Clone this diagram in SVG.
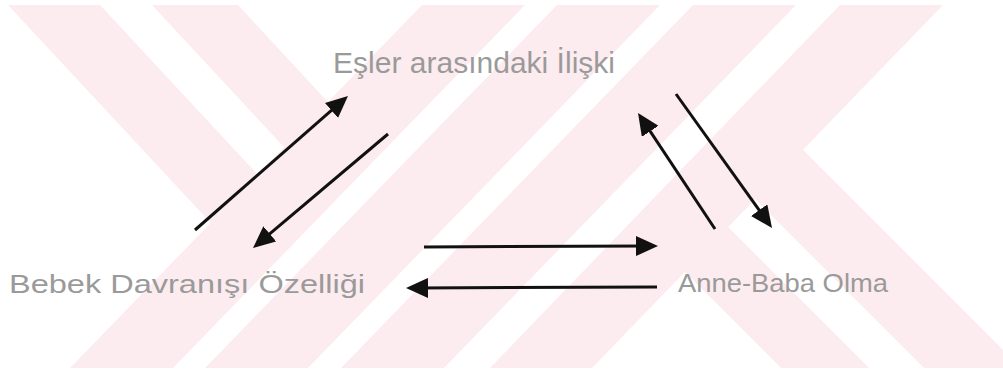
<svg xmlns="http://www.w3.org/2000/svg" width="1003" height="370" viewBox="0 0 1003 370">
  <style>
    .wm { fill: #fdecef; stroke: none; }
    .lbl { font-family: "Liberation Sans", Arial, sans-serif; fill: #9a9a9a; }
    .conn { stroke: #111111; stroke-width: 3; fill: none; marker-end: url(#head); }
  </style>
  <defs>
    <marker id="head" viewBox="0 0 22 20" refX="11" refY="10" markerWidth="22" markerHeight="20" markerUnits="userSpaceOnUse" orient="auto">
      <path d="M0,0 L22,10 L0,20 z" fill="#111111"/>
    </marker>
  </defs>
  <rect width="1003" height="370" fill="#ffffff"/>
  <g id="watermark">
    <polygon class="wm" points="8,5 100,5 272,190 222,235"/>
    <polygon class="wm" points="152,5 238,5 340,115 296,160"/>
    <polygon class="wm" points="422,5 525,5 173,368 70,368"/>
    <polygon class="wm" points="557,5 660,5 308,368 205,368"/>
    <polygon class="wm" points="693,5 796,5 444,368 341,368"/>
    <polygon class="wm" points="840,5 943,5 592,368 490,368"/>
    <polygon class="wm" points="716,215 869,368 781,368 648,235"/>
    <polygon class="wm" points="793,140 1021,368 924,368 741,185"/>
  </g>
  <g id="connectors">
    <line class="conn" x1="195" y1="230" x2="339.7" y2="103.2"/>
    <line class="conn" x1="388" y1="134" x2="261.4" y2="240.9"/>
    <line class="conn" x1="715" y1="229" x2="644.1" y2="122.2"/>
    <line class="conn" x1="676" y1="94" x2="765.6" y2="219.1"/>
    <line class="conn" x1="424" y1="247" x2="647" y2="246"/>
    <line class="conn" x1="657" y1="287" x2="417" y2="288"/>
  </g>
  <g id="node-esler">
    <text class="lbl" x="333" y="73" font-size="29" textLength="282" lengthAdjust="spacingAndGlyphs">Eşler arasındaki İlişki</text>
  </g>
  <g id="node-bebek">
    <text class="lbl" x="9" y="293" font-size="26" textLength="356" lengthAdjust="spacingAndGlyphs">Bebek Davranışı Özelliği</text>
  </g>
  <g id="node-anne-baba">
    <text class="lbl" x="678" y="292" font-size="26" textLength="210" lengthAdjust="spacingAndGlyphs">Anne-Baba Olma</text>
  </g>
</svg>
